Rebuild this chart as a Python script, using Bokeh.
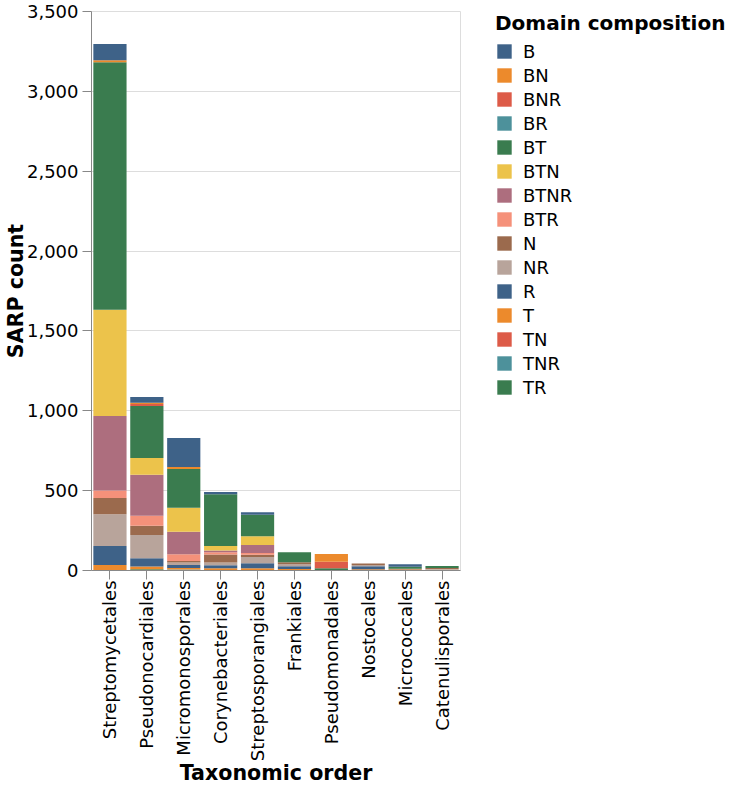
import math
from bokeh.plotting import figure
from bokeh.layouts import row
from bokeh.models import (ColumnDataSource, Legend, LegendItem,
                          NumeralTickFormatter, SingleIntervalTicker)
from bokeh.embed import file_html
from bokeh.resources import INLINE

orders = ["Streptomycetales", "Pseudonocardiales", "Micromonosporales",
          "Corynebacteriales", "Streptosporangiales", "Frankiales",
          "Pseudomonadales", "Nostocales", "Micrococcales", "Catenulisporales"]

domains = ["B", "BN", "BNR", "BR", "BT", "BTN", "BTNR", "BTR",
           "N", "NR", "R", "T", "TN", "TNR", "TR"]

colors = ["#3e6288", "#ec8a2c", "#dd5b48", "#4d919b", "#3a7c4f", "#ecc34b",
          "#ad6e7e", "#f5917a", "#9b6a4d", "#b8a49b", "#3e6288", "#ec8a2c",
          "#dd5b48", "#4d919b", "#3a7c4f"]

# values per order (same order as `orders`)
B    = [102, 37, 181, 15, 15, 0, 0, 0, 15, 0]
BN   = [13, 8, 12, 0, 0, 0, 0, 0, 0, 0]
BNR  = [0, 12, 0, 0, 0, 0, 0, 0, 0, 0]
BR   = [0, 0, 0, 0, 0, 0, 0, 0, 0, 0]
BT   = [1549, 326, 243, 324, 135, 62, 0, 0, 13, 12]
BTN  = [665, 104, 150, 28, 54, 0, 0, 0, 0, 0]
BTNR = [467, 257, 141, 11, 50, 0, 0, 0, 0, 0]
BTR  = [47, 63, 42, 14, 11, 0, 0, 0, 0, 0]
N    = [102, 58, 10, 50, 14, 12, 0, 10, 5, 6]
NR   = [199, 145, 16, 17, 40, 14, 0, 8, 0, 6]
R    = [118, 52, 18, 19, 31, 16, 0, 18, 0, 0]
T    = [35, 17, 10, 14, 14, 10, 48, 8, 6, 4]
TN   = [0, 0, 0, 0, 0, 0, 41, 0, 0, 0]
TNR  = [0, 0, 6, 0, 0, 0, 0, 0, 0, 0]
TR   = [0, 8, 0, 0, 0, 0, 14, 0, 0, 0]

data = dict(order=orders, B=B, BN=BN, BNR=BNR, BR=BR, BT=BT, BTN=BTN,
            BTNR=BTNR, BTR=BTR, N=N, NR=NR, R=R, T=T, TN=TN, TNR=TNR, TR=TR)
src = ColumnDataSource(data)

FONT = "DejaVu Sans"

# ---------------- main chart ----------------
p = figure(x_range=orders, y_range=(0, 3500), width=462, height=788,
           output_backend="svg", toolbar_location=None,
           min_border_left=84, min_border_right=2,
           min_border_top=11, min_border_bottom=215)
p.x_range.range_padding = 0

stack = domains[::-1]
cmap = dict(zip(domains, colors))
p.vbar_stack(stack, x="order", width=0.9, source=src,
             fill_color=[cmap[d] for d in stack], line_color=None)

p.xgrid.grid_line_color = None
p.ygrid.grid_line_color = "#dddddd"
p.outline_line_color = "#dddddd"

p.yaxis.ticker = SingleIntervalTicker(interval=500)
p.yaxis.formatter = NumeralTickFormatter(format="0,0")
p.yaxis.minor_tick_line_color = None

for ax in (p.xaxis[0], p.yaxis[0]):
    ax.axis_line_color = "#888888"
    ax.major_tick_line_color = "#888888"
    ax.major_tick_out = 9
    ax.major_tick_in = 0
    ax.major_label_text_font = FONT
    ax.major_label_text_font_size = "18px"
    ax.major_label_text_color = "#000000"
    ax.axis_label_text_font = FONT
    ax.axis_label_text_font_size = "20.6px"
    ax.axis_label_text_font_style = "bold"
    ax.axis_label_text_color = "#000000"

p.xaxis.major_label_orientation = math.pi / 2
p.xaxis.major_label_standoff = 1
p.xaxis.axis_label_standoff = -3
p.yaxis.major_label_standoff = 4
p.yaxis.axis_label_standoff = -4
p.xaxis.axis_label = "Taxonomic order"
p.yaxis.axis_label = "SARP count"

# ---------------- legend panel ----------------
lg = figure(width=268, height=788, x_range=(0, 1), y_range=(0, 1),
            output_backend="svg", toolbar_location=None,
            min_border_left=33, min_border_right=0,
            min_border_top=0, min_border_bottom=0)
lg.axis.visible = False
lg.grid.grid_line_color = None
lg.outline_line_color = None

items = []
for d in domains:
    # off-screen proxy renderer, only used to draw the legend swatch
    r = lg.vbar(x=[-5], top=[0], width=0.5, fill_color=cmap[d], line_color=None)
    items.append(LegendItem(label=d, renderers=[r]))

legend = Legend(items=items, location="top_left", title="Domain composition")
legend.title_text_font = FONT
legend.title_text_font_size = "20px"
legend.title_text_font_style = "bold"
legend.title_text_color = "#000000"
legend.title_standoff = 4
legend.label_text_font = FONT
legend.label_text_font_size = "18px"
legend.label_text_color = "#000000"
legend.glyph_height = 18
legend.glyph_width = 18
legend.label_height = 24
legend.spacing = 0
legend.padding = 0
legend.margin = 0
legend.label_standoff = 10
legend.border_line_color = None
legend.background_fill_alpha = 0
lg.add_layout(legend)

layout = row(p, lg)
open("out.html", "w").write(file_html(layout, INLINE))
